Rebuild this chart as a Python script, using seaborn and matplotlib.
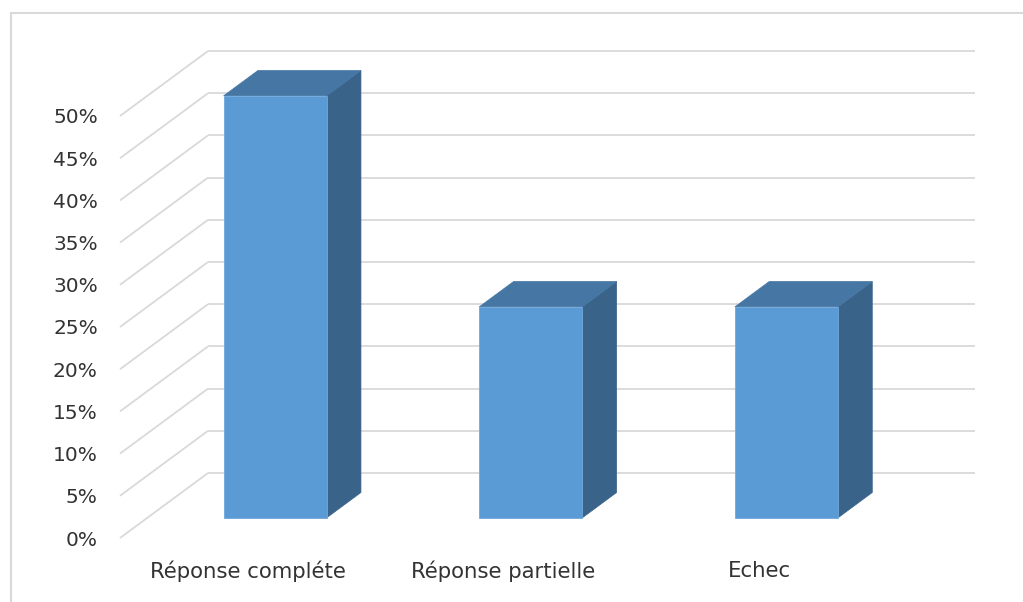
import matplotlib
matplotlib.use("Agg")
import matplotlib.pyplot as plt
from matplotlib.patches import Polygon, Rectangle
from matplotlib.ticker import FuncFormatter
import seaborn as sns
import pandas as pd

categories = ["Réponse compléte", "Réponse partielle", "Echec"]
values = [0.50, 0.25, 0.25]
y_ticks = [0.00, 0.05, 0.10, 0.15, 0.20, 0.25, 0.30, 0.35, 0.40, 0.45, 0.50]

FRONT = "#5B9BD5"
TOP = "#4676A3"
SIDE = "#3A6389"
GRID = "#D9D9D9"
TEXT = "#333333"

sns.set_theme(style="white")
plt.rcParams["font.family"] = ["DejaVu Sans"]

W, H = 1023, 602
fig = plt.figure(figsize=(W / 100, H / 100), dpi=100)
fig.patch.set_facecolor("white")

# plot area (front plane) in pixels
x0_px, x1_px = 120, 887
ybot_px, ytop_px = 538, 116
ax = fig.add_axes([x0_px / W, (H - ybot_px) / H,
                   (x1_px - x0_px) / W, (ybot_px - ytop_px) / H])
ax.set_xlim(-0.5, 2.5)
ax.set_ylim(0, 0.5)

# oblique depth vector, pixels -> data units
px_per_x = (x1_px - x0_px) / 3.0
px_per_y = (ybot_px - ytop_px) / 0.5
DX = 88 / px_per_x
DY = 65 / px_per_y
f_front, f_back = 0.31, 0.70

# back wall gridlines and left wall diagonals
for v in y_ticks:
    ax.plot([-0.5 + DX, 2.5 + DX], [v + DY, v + DY], color=GRID, lw=1.3,
            clip_on=False, zorder=1, solid_capstyle="butt")
    ax.plot([-0.5, -0.5 + DX], [v, v + DY], color=GRID, lw=1.3,
            clip_on=False, zorder=1, solid_capstyle="butt")

df = pd.DataFrame({"cat": categories, "val": values})
sns.barplot(data=df, x="cat", y="val", width=0.403, color=FRONT,
            saturation=1, ax=ax, zorder=3)

ox, oy = DX * f_front, DY * f_front
ddx, ddy = DX * (f_back - f_front), DY * (f_back - f_front)
for p in ax.patches:
    x = p.get_x() + ox
    y = p.get_y() + oy
    w = p.get_width()
    h = p.get_height()
    p.set_x(x)
    p.set_y(y)
    p.set_edgecolor("#6FA8DC")
    p.set_linewidth(0.6)
    p.set_clip_on(False)
    side = Polygon([(x + w, y), (x + w + ddx, y + ddy),
                    (x + w + ddx, y + h + ddy), (x + w, y + h)],
                   closed=True, facecolor=SIDE, edgecolor=SIDE, lw=0.5,
                   clip_on=False, zorder=2.9)
    top = Polygon([(x, y + h), (x + ddx, y + h + ddy),
                   (x + w + ddx, y + h + ddy), (x + w, y + h)],
                  closed=True, facecolor=TOP, edgecolor=TOP, lw=0.5,
                  clip_on=False, zorder=2.9)
    ax.add_patch(side)
    ax.add_patch(top)

ax.set_yticks(y_ticks)
ax.yaxis.set_major_formatter(FuncFormatter(lambda v, _: f"{v * 100:.0f}%"))
ax.tick_params(axis="y", length=0, pad=16, labelsize=14.5, labelcolor=TEXT)
ax.tick_params(axis="x", length=0, pad=16.5, labelsize=15.3, labelcolor=TEXT)
ax.set_xlabel("")
ax.set_ylabel("")
for s in ax.spines.values():
    s.set_visible(False)
ax.grid(False)
ax.patch.set_alpha(0)

# chart border
fig.patches.append(Rectangle((11 / W, -0.1), 1.2, (H - 13) / H + 0.1,
                             transform=fig.transFigure, fill=False,
                             edgecolor=GRID, lw=1.5))

fig.savefig("out.png", dpi=100)
